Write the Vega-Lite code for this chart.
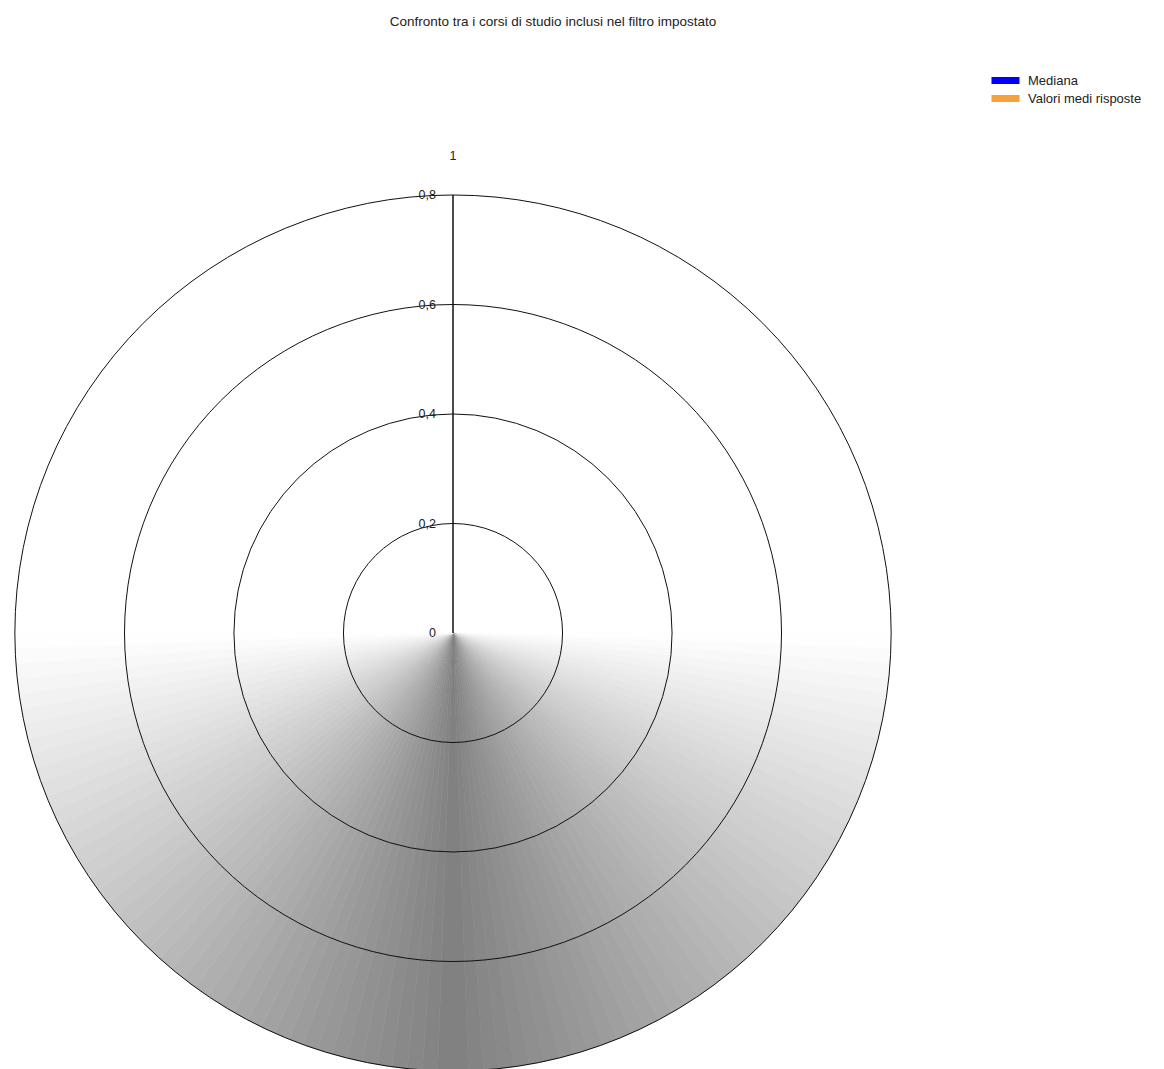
{
  "$schema": "https://vega.github.io/schema/vega-lite/v6.json",
  "width": 906,
  "height": 872,
  "autosize": {"type": "none"},
  "padding": {"left": 0, "top": 197, "right": 258, "bottom": 0},
  "background": "#ffffff",
  "view": {"stroke": null},
  "config": {
    "font": "Liberation Sans",
    "legend": {
      "labelFont": "Liberation Sans",
      "labelFontSize": 13,
      "labelColor": "#222222",
      "symbolType": "M-4,-1H4V1H-4Z",
      "symbolSize": 49,
      "symbolStrokeWidth": 0,
      "symbolOpacity": 1,
      "labelOffset": 16,
      "rowPadding": 4,
      "padding": 0
    }
  },
  "title": {
    "text": "Confronto tra i corsi di studio inclusi nel filtro impostato",
    "anchor": "middle",
    "dx": 100,
    "offset": 46,
    "font": "Liberation Sans",
    "fontSize": 13.5,
    "fontWeight": "normal",
    "color": "#222222"
  },
  "datasets": {
    "wedges": [
      {"a0": 90, "a1": 92, "g": 1}, {"a0": 92, "a1": 94, "g": 3}, {"a0": 94, "a1": 96, "g": 5}, {"a0": 96, "a1": 98, "g": 7}, {"a0": 98, "a1": 100, "g": 9},
      {"a0": 100, "a1": 102, "g": 11}, {"a0": 102, "a1": 104, "g": 13}, {"a0": 104, "a1": 106, "g": 15}, {"a0": 106, "a1": 108, "g": 17}, {"a0": 108, "a1": 110, "g": 19},
      {"a0": 110, "a1": 112, "g": 21}, {"a0": 112, "a1": 114, "g": 23}, {"a0": 114, "a1": 116, "g": 25}, {"a0": 116, "a1": 118, "g": 27}, {"a0": 118, "a1": 120, "g": 29},
      {"a0": 120, "a1": 122, "g": 31}, {"a0": 122, "a1": 124, "g": 33}, {"a0": 124, "a1": 126, "g": 35}, {"a0": 126, "a1": 128, "g": 37}, {"a0": 128, "a1": 130, "g": 39},
      {"a0": 130, "a1": 132, "g": 41}, {"a0": 132, "a1": 134, "g": 43}, {"a0": 134, "a1": 136, "g": 45}, {"a0": 136, "a1": 138, "g": 47}, {"a0": 138, "a1": 140, "g": 49},
      {"a0": 140, "a1": 142, "g": 51}, {"a0": 142, "a1": 144, "g": 53}, {"a0": 144, "a1": 146, "g": 55}, {"a0": 146, "a1": 148, "g": 57}, {"a0": 148, "a1": 150, "g": 59},
      {"a0": 150, "a1": 152, "g": 61}, {"a0": 152, "a1": 154, "g": 63}, {"a0": 154, "a1": 156, "g": 65}, {"a0": 156, "a1": 158, "g": 67}, {"a0": 158, "a1": 160, "g": 69},
      {"a0": 160, "a1": 162, "g": 71}, {"a0": 162, "a1": 164, "g": 73}, {"a0": 164, "a1": 166, "g": 75}, {"a0": 166, "a1": 168, "g": 77}, {"a0": 168, "a1": 170, "g": 79},
      {"a0": 170, "a1": 172, "g": 81}, {"a0": 172, "a1": 174, "g": 83}, {"a0": 174, "a1": 176, "g": 85}, {"a0": 176, "a1": 178, "g": 87}, {"a0": 178, "a1": 180, "g": 89},
      {"a0": 180, "a1": 182, "g": 89}, {"a0": 182, "a1": 184, "g": 87}, {"a0": 184, "a1": 186, "g": 85}, {"a0": 186, "a1": 188, "g": 83}, {"a0": 188, "a1": 190, "g": 81},
      {"a0": 190, "a1": 192, "g": 79}, {"a0": 192, "a1": 194, "g": 77}, {"a0": 194, "a1": 196, "g": 75}, {"a0": 196, "a1": 198, "g": 73}, {"a0": 198, "a1": 200, "g": 71},
      {"a0": 200, "a1": 202, "g": 69}, {"a0": 202, "a1": 204, "g": 67}, {"a0": 204, "a1": 206, "g": 65}, {"a0": 206, "a1": 208, "g": 63}, {"a0": 208, "a1": 210, "g": 61},
      {"a0": 210, "a1": 212, "g": 59}, {"a0": 212, "a1": 214, "g": 57}, {"a0": 214, "a1": 216, "g": 55}, {"a0": 216, "a1": 218, "g": 53}, {"a0": 218, "a1": 220, "g": 51},
      {"a0": 220, "a1": 222, "g": 49}, {"a0": 222, "a1": 224, "g": 47}, {"a0": 224, "a1": 226, "g": 45}, {"a0": 226, "a1": 228, "g": 43}, {"a0": 228, "a1": 230, "g": 41},
      {"a0": 230, "a1": 232, "g": 39}, {"a0": 232, "a1": 234, "g": 37}, {"a0": 234, "a1": 236, "g": 35}, {"a0": 236, "a1": 238, "g": 33}, {"a0": 238, "a1": 240, "g": 31},
      {"a0": 240, "a1": 242, "g": 29}, {"a0": 242, "a1": 244, "g": 27}, {"a0": 244, "a1": 246, "g": 25}, {"a0": 246, "a1": 248, "g": 23}, {"a0": 248, "a1": 250, "g": 21},
      {"a0": 250, "a1": 252, "g": 19}, {"a0": 252, "a1": 254, "g": 17}, {"a0": 254, "a1": 256, "g": 15}, {"a0": 256, "a1": 258, "g": 13}, {"a0": 258, "a1": 260, "g": 11},
      {"a0": 260, "a1": 262, "g": 9}, {"a0": 262, "a1": 264, "g": 7}, {"a0": 264, "a1": 266, "g": 5}, {"a0": 266, "a1": 268, "g": 3}, {"a0": 268, "a1": 270, "g": 1}
    ],
    "rings": [{"r": 0.2}, {"r": 0.4}, {"r": 0.6}, {"r": 0.8}],
    "ticks": [
      {"v": 0, "lab": "0"},
      {"v": 0.2, "lab": "0,2"},
      {"v": 0.4, "lab": "0,4"},
      {"v": 0.6, "lab": "0,6"},
      {"v": 0.8, "lab": "0,8"}
    ],
    "top": [{"v": 0.871, "lab": "1"}],
    "series": [{"serie": "Mediana"}, {"serie": "Valori medi risposte"}]
  },
  "layer": [
    {
      "data": {"name": "wedges"},
      "mark": {"type": "arc", "strokeWidth": 0.6},
      "encoding": {
        "theta": {"field": "a0", "type": "quantitative", "stack": null, "scale": {"domain": [0, 360], "range": [0, 6.283185307179586]}},
        "theta2": {"field": "a1"},
        "radius": {"datum": 0.8, "type": "quantitative", "stack": null, "scale": {"type": "linear", "domain": [0, 0.8], "range": [0, 438], "zero": true}},
        "fill": {"field": "g", "type": "quantitative", "scale": {"domain": [0, 90], "range": ["#ffffff", "#808080"]}, "legend": null},
        "stroke": {"field": "g", "type": "quantitative", "scale": {"domain": [0, 90], "range": ["#ffffff", "#808080"]}, "legend": null}
      }
    },
    {
      "data": {"name": "rings"},
      "mark": {"type": "arc", "filled": false, "stroke": "#111111", "strokeWidth": 1},
      "encoding": {
        "theta": {"datum": 0, "type": "quantitative", "stack": null},
        "theta2": {"datum": 360},
        "radius": {"field": "r", "type": "quantitative", "stack": null}
      }
    },
    {
      "data": {"values": [{}]},
      "mark": {"type": "arc", "filled": false, "stroke": "#111111", "strokeWidth": 1},
      "encoding": {
        "theta": {"datum": 0, "type": "quantitative", "stack": null},
        "theta2": {"datum": 0},
        "radius": {"datum": 0.8, "type": "quantitative", "stack": null}
      }
    },
    {
      "data": {"name": "ticks"},
      "mark": {"type": "text", "align": "right", "baseline": "middle", "dx": -17, "font": "Liberation Sans", "fontSize": 12.5, "color": "#222222"},
      "encoding": {
        "theta": {"datum": 0, "type": "quantitative", "stack": null},
        "radius": {"field": "v", "type": "quantitative", "stack": null},
        "text": {"field": "lab"}
      }
    },
    {
      "data": {"name": "top"},
      "mark": {"type": "text", "align": "center", "baseline": "middle", "font": "Liberation Sans", "fontSize": 12.5, "color": "#222222"},
      "encoding": {
        "theta": {"datum": 0, "type": "quantitative", "stack": null},
        "radius": {"field": "v", "type": "quantitative", "stack": null},
        "text": {"field": "lab"}
      }
    },
    {
      "data": {"name": "series"},
      "mark": {"type": "arc"},
      "encoding": {
        "theta": {"datum": 0, "type": "quantitative", "stack": null},
        "theta2": {"datum": 0},
        "radius": {"datum": 0, "type": "quantitative", "stack": null},
        "color": {
          "field": "serie",
          "type": "nominal",
          "scale": {"domain": ["Mediana", "Valori medi risposte"], "range": ["#0000ff", "#f7a13a"]},
          "legend": {"title": null, "orient": "none", "legendX": 999, "legendY": -123}
        }
      }
    }
  ]
}
